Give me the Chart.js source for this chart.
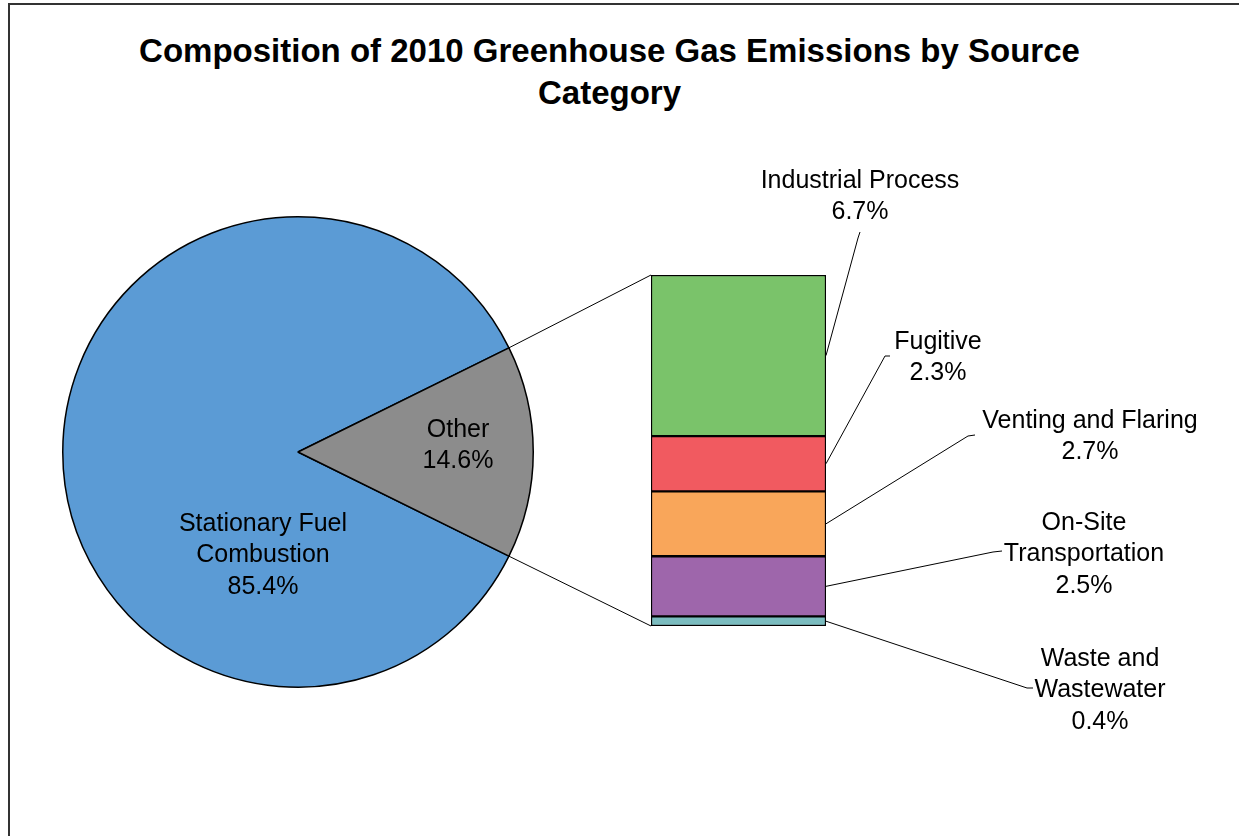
<!DOCTYPE html>
<html>
<head>
    <title>GHG 2010</title>
    <style>
        body {
            margin: 0;
            background-color: #ffffff;
            font-family: "Liberation Sans", Arial, sans-serif;
        }

        #marco {
            position: absolute;
            left: 8px;
            top: 3px;
            width: 1260px;
            height: 860px;
            border: 2px solid #333;
        }

        #titulo {
            position: absolute;
            left: 0;
            top: 30px;
            width: 1219px;
            text-align: center;
            font-weight: bold;
            font-size: 33px;
            line-height: 42px;
            color: #000;
        }

        canvas {
            position: absolute;
            left: 0;
            top: 0;
        }
    </style>
    <script src="https://cdn.jsdelivr.net/npm/chart.js"></script>
</head>
<body>
    <div id="marco"></div>
    <div id="titulo">Composition of 2010 Greenhouse Gas Emissions by Source<br>Category</div>
    <canvas id="pieChart" width="1239" height="836"></canvas>
    <canvas id="barChart" width="1239" height="836"></canvas>

    <script>
        // datos del pastel
        var pieLabels = [['Stationary Fuel', 'Combustion'], ['Other']];
        var pieValues = [85.4, 14.6];
        var pieColors = ['#5B9BD5', '#8C8C8C'];

        // desglose de "Other" (de abajo hacia arriba)
        var barLabels = [['Waste and', 'Wastewater'], ['On-Site', 'Transportation'], ['Venting and Flaring'], ['Fugitive'], ['Industrial Process']];
        var barValues = [0.4, 2.5, 2.7, 2.3, 6.7];
        var barColors = ['#7BBCBF', '#9E66AB', '#F9A65A', '#F15A60', '#7AC36A'];

        var labelFont = '25px "Liberation Sans", Arial, sans-serif';
        var lineGap = 31.5;

        // posiciones de las etiquetas (centro de la primera linea) y codos de las guias
        var pieSpots = [{x: 263, y: 524}, {x: 458, y: 430}];
        var barSpots = [
            {x: 1100, y: 659, elbow: [1027, 688], end: [1033, 688]},
            {x: 1084, y: 523, elbow: [993, 552], end: [1002, 551]},
            {x: 1090, y: 421, elbow: [968, 436], end: [975, 435]},
            {x: 938, y: 342, elbow: [885, 356], end: [890, 356]},
            {x: 860, y: 181, elbow: [858, 238], end: [860, 232]}
        ];

        function pct(v) {
            return v.toFixed(1) + '%';
        }

        function drawLines(ctx, lines, x, y) {
            ctx.save();
            ctx.font = labelFont;
            ctx.fillStyle = '#000';
            ctx.textAlign = 'center';
            ctx.textBaseline = 'middle';
            for (var i = 0; i < lines.length; i++) {
                ctx.fillText(lines[i], x, y + i * lineGap);
            }
            ctx.restore();
        }

        var pieTotal = pieValues.reduce(function(a, b) { return a + b; }, 0);
        // girar para que "Other" quede centrado a la derecha
        var pieRotation = 450 - (pieValues[0] + pieValues[1] / 2) / pieTotal * 360;

        var pieChart = new Chart(document.getElementById('pieChart'), {
            type: 'pie',
            data: {
                labels: pieLabels,
                datasets: [{
                    data: pieValues,
                    backgroundColor: pieColors,
                    borderColor: '#000',
                    borderWidth: 1.5
                }]
            },
            options: {
                responsive: false,
                animation: false,
                rotation: pieRotation,
                layout: { padding: { left: 62, right: 705, top: 216, bottom: 148 } },
                plugins: { legend: { display: false }, tooltip: { enabled: false } }
            },
            plugins: [{
                id: 'pieText',
                afterDatasetsDraw: function(chart) {
                    for (var i = 0; i < pieValues.length; i++) {
                        drawLines(chart.ctx, pieLabels[i].concat([pct(pieValues[i])]), pieSpots[i].x, pieSpots[i].y);
                    }
                }
            }]
        });

        var barTotal = barValues.reduce(function(a, b) { return a + b; }, 0);

        var barChart = new Chart(document.getElementById('barChart'), {
            type: 'bar',
            data: {
                labels: [''],
                datasets: barValues.map(function(v, i) {
                    return {
                        label: barLabels[i].join(' '),
                        data: [v],
                        backgroundColor: barColors[i],
                        borderColor: '#000',
                        borderWidth: 1.5,
                        borderSkipped: false,
                        barPercentage: 1,
                        categoryPercentage: 1
                    };
                })
            },
            options: {
                responsive: false,
                animation: false,
                layout: { padding: { left: 651, right: 413, top: 275, bottom: 210 } },
                scales: {
                    x: { display: false, stacked: true },
                    y: { display: false, stacked: true, min: 0, max: barTotal }
                },
                plugins: { legend: { display: false }, tooltip: { enabled: false } }
            },
            plugins: [{
                id: 'guias',
                afterDatasetsDraw: function(chart) {
                    var ctx = chart.ctx;
                    var arc = pieChart.getDatasetMeta(0).data[1];
                    var first = chart.getDatasetMeta(0).data[0];
                    var last = chart.getDatasetMeta(barValues.length - 1).data[0];
                    var left = first.x - first.width / 2;

                    ctx.save();
                    ctx.strokeStyle = '#000';
                    ctx.lineWidth = 1;

                    // lineas del pastel a la barra
                    ctx.beginPath();
                    ctx.moveTo(arc.x + arc.outerRadius * Math.cos(arc.startAngle), arc.y + arc.outerRadius * Math.sin(arc.startAngle));
                    ctx.lineTo(left, last.y);
                    ctx.moveTo(arc.x + arc.outerRadius * Math.cos(arc.endAngle), arc.y + arc.outerRadius * Math.sin(arc.endAngle));
                    ctx.lineTo(left, first.base);
                    ctx.stroke();

                    // guias de las etiquetas
                    for (var i = 0; i < barValues.length; i++) {
                        var el = chart.getDatasetMeta(i).data[0];
                        var s = barSpots[i];
                        ctx.beginPath();
                        ctx.moveTo(el.x + el.width / 2, (el.y + el.base) / 2);
                        ctx.lineTo(s.elbow[0], s.elbow[1]);
                        ctx.lineTo(s.end[0], s.end[1]);
                        ctx.stroke();
                    }
                    ctx.restore();

                    for (var j = 0; j < barValues.length; j++) {
                        drawLines(ctx, barLabels[j].concat([pct(barValues[j])]), barSpots[j].x, barSpots[j].y);
                    }
                }
            }]
        });
    </script>
</body>
</html>
